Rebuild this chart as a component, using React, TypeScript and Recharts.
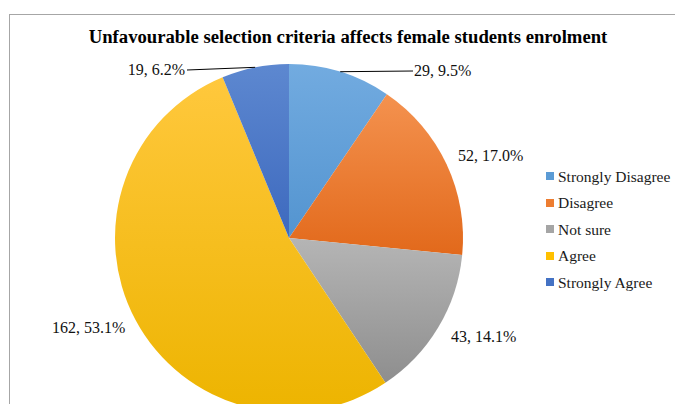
import React from "react";
import { PieChart, Pie, Cell, Legend } from "recharts";

const categories = ["Strongly Disagree", "Disagree", "Not sure", "Agree", "Strongly Agree"];
const counts = [29, 52, 43, 162, 19];
const percents = ["9.5%", "17.0%", "14.1%", "53.1%", "6.2%"];
const title = "Unfavourable selection criteria affects female students enrolment";

const baseColors = ["#5B9BD5", "#ED7D31", "#A5A5A5", "#FFC000", "#4472C4"];
const topColors = ["#72ABE0", "#F4924F", "#B5B5B5", "#FFC83D", "#5D88D0"];
const bottomColors = ["#5394D0", "#E2691B", "#8E8E8E", "#EDB400", "#3D69BE"];

// label placement relative to pie centre (layout, not data)
const labelPlacement = [
  { dx: 125, dy: -168, anchor: "start", leader: true },
  { dx: 169, dy: -83, anchor: "start", leader: false },
  { dx: 162, dy: 98, anchor: "start", leader: false },
  { dx: -237, dy: 89, anchor: "start", leader: false },
  { dx: -104, dy: -169, anchor: "end", leader: true },
];

const data = categories.map((name, i) => ({ name, value: counts[i], pct: percents[i] }));

const RADIAN = Math.PI / 180;
const FONT = "'Liberation Serif', 'Times New Roman', Times, serif";

const renderLabel = (props: any) => {
  const { cx, cy, midAngle, outerRadius, index } = props;
  const p = labelPlacement[index];
  const x = cx + p.dx;
  const y = cy + p.dy;
  const ex = cx + outerRadius * Math.cos(-midAngle * RADIAN);
  const ey = cy + outerRadius * Math.sin(-midAngle * RADIAN);
  const lx = p.anchor === "start" ? x - 1 : x + 2;
  return (
    <g key={`lbl-${index}`}>
      {p.leader && <line x1={ex} y1={ey} x2={lx} y2={y + 1} stroke="#000" strokeWidth={1} />}
      <text
        x={x}
        y={y}
        textAnchor={p.anchor}
        dominantBaseline="central"
        style={{ fontFamily: FONT, fontSize: 16 }}
        fill="#111"
      >
        {`${data[index].value}, ${data[index].pct}`}
      </text>
    </g>
  );
};

const renderLegend = () => (
  <div style={{ fontFamily: FONT, fontSize: 15.5, color: "#1a1a1a", lineHeight: 1 }}>
    {categories.map((c, i) => (
      <div key={c} style={{ height: 26.5, display: "flex", alignItems: "center" }}>
        <span
          style={{
            display: "inline-block",
            width: 8,
            height: 8,
            background: baseColors[i],
            marginRight: 4,
          }}
        />
        <span>{c}</span>
      </div>
    ))}
  </div>
);

export default function App() {
  return (
    <div style={{ position: "absolute", left: 0, top: 0, width: 675, height: 404, background: "#fff", overflow: "hidden", fontFamily: FONT }}>
      <div style={{ position: "absolute", left: 9, top: 14, width: 666, height: 1, background: "#A6A6A6" }} />
      <div style={{ position: "absolute", left: 9, top: 14, width: 1, height: 390, background: "#A6A6A6" }} />
      <div
        style={{
          position: "absolute",
          left: 0,
          width: 696,
          top: 26,
          textAlign: "center",
          fontFamily: FONT,
          fontWeight: "bold",
          fontSize: 18.7,
          color: "#000",
          whiteSpace: "nowrap",
        }}
      >
        {title}
      </div>
      <PieChart width={675} height={404} margin={{ top: 0, right: 0, bottom: 0, left: 0 }} style={{ position: "absolute", left: 0, top: 0 }}>
        <defs>
          {baseColors.map((_, i) => (
            <linearGradient key={i} id={`g${i}`} x1="0" y1="0" x2="0" y2="1">
              <stop offset="0%" stopColor={topColors[i]} />
              <stop offset="100%" stopColor={bottomColors[i]} />
            </linearGradient>
          ))}
        </defs>
        <Pie
          data={data}
          dataKey="value"
          nameKey="name"
          cx={289}
          cy={238}
          outerRadius={174}
          startAngle={90}
          endAngle={-270}
          stroke="none"
          label={renderLabel}
          labelLine={false}
          isAnimationActive={false}
        >
          {data.map((d, i) => (
            <Cell key={d.name} fill={`url(#g${i})`} />
          ))}
        </Pie>
        <Legend
          layout="vertical"
          verticalAlign="middle"
          align="right"
          content={renderLegend}
          wrapperStyle={{ position: "absolute", left: 546, top: 163, width: 130 }}
        />
      </PieChart>
    </div>
  );
}
